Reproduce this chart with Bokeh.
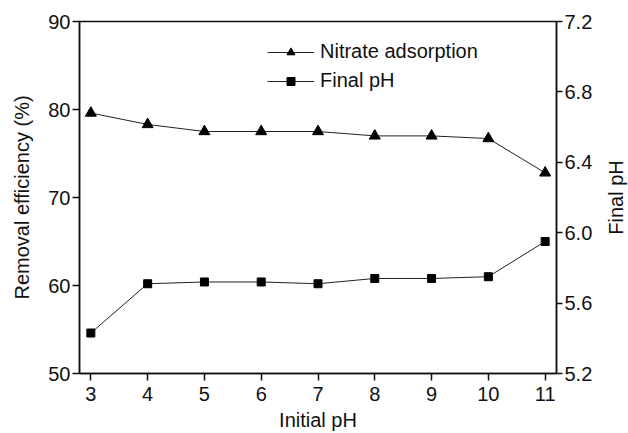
import math
from bokeh.plotting import figure
from bokeh.models import Range1d, LinearAxis, FixedTicker, PrintfTickFormatter, Legend, LegendItem, Label
from bokeh.embed import file_html
from bokeh.resources import INLINE

initial_ph = [3, 4, 5, 6, 7, 8, 9, 10, 11]
nitrate_removal = [79.6, 78.3, 77.5, 77.5, 77.5, 77.0, 77.0, 76.7, 72.8]
final_ph = [5.43, 5.71, 5.72, 5.72, 5.71, 5.74, 5.74, 5.75, 5.95]

left_ticks = [50, 60, 70, 80, 90]
right_ticks = [5.2, 5.6, 6.0, 6.4, 6.8, 7.2]
x_ticks = [3, 4, 5, 6, 7, 8, 9, 10, 11]

FONT = "Liberation Sans"
FS = "20px"
INK = "#111111"

p = figure(width=628, height=433, x_range=Range1d(2.8, 11.2), y_range=Range1d(50, 90),
           output_backend="svg", toolbar_location=None,
           min_border_left=79, min_border_right=72, min_border_top=21, min_border_bottom=60)
p.extra_y_ranges = {"ph": Range1d(5.2, 7.2)}
p.grid.visible = False
p.outline_line_color = INK
p.outline_line_width = 1.5
p.background_fill_color = "white"
p.border_fill_color = "white"

def style_axis(ax):
    ax.axis_line_color = INK
    ax.axis_line_width = 1.5
    ax.major_tick_line_color = INK
    ax.major_tick_line_width = 1.5
    ax.major_tick_out = 7
    ax.major_tick_in = 0
    ax.minor_tick_line_color = None
    ax.major_label_text_font = FONT
    ax.major_label_text_font_size = FS
    ax.major_label_text_color = INK
    ax.axis_label_text_font = FONT
    ax.axis_label_text_font_size = FS
    ax.axis_label_text_font_style = "normal"
    ax.axis_label_text_color = INK
    ax.major_label_standoff = 2

xa = p.xaxis[0]
xa.ticker = FixedTicker(ticks=x_ticks)
xa.axis_label = "Initial pH"
style_axis(xa)
xa.major_label_standoff = 6
xa.axis_label_standoff = 5

ya = p.yaxis[0]
ya.ticker = FixedTicker(ticks=left_ticks)
ya.axis_label = "Removal efficiency (%)"
ya.axis_label_standoff = 12
style_axis(ya)

ra = LinearAxis(y_range_name="ph", ticker=FixedTicker(ticks=right_ticks),
                formatter=PrintfTickFormatter(format="%.1f"))
style_axis(ra)
ra.major_tick_out = 6
ra.major_label_standoff = 2
p.add_layout(ra, "right")

right_title = Label(x=20, y=176, x_units="screen", y_units="screen", text="Final pH",
                    angle=math.pi / 2, text_align="center", text_baseline="middle",
                    text_font=FONT, text_font_size=FS, text_color=INK)
p.add_layout(right_title, "right")

l1 = p.line(initial_ph, nitrate_removal, line_color="#222222", line_width=1)
s1 = p.scatter(initial_ph, nitrate_removal, marker="triangle", size=11, fill_color="black", line_color="black")
l2 = p.line(initial_ph, final_ph, y_range_name="ph", line_color="#222222", line_width=1)
s2 = p.scatter(initial_ph, final_ph, y_range_name="ph", marker="square", size=8, fill_color="black", line_color="black")

legend = Legend(items=[LegendItem(label="Nitrate adsorption", renderers=[l1, s1]),
                       LegendItem(label="Final pH", renderers=[l2, s2])],
                location=(188, 281), glyph_width=47, glyph_height=20, spacing=6,
                padding=0, margin=0, label_standoff=6,
                border_line_color=None, background_fill_alpha=0,
                label_text_font=FONT, label_text_font_size=FS, label_text_color=INK)
p.add_layout(legend, "center")

open("out.html", "w").write(file_html(p, INLINE))
